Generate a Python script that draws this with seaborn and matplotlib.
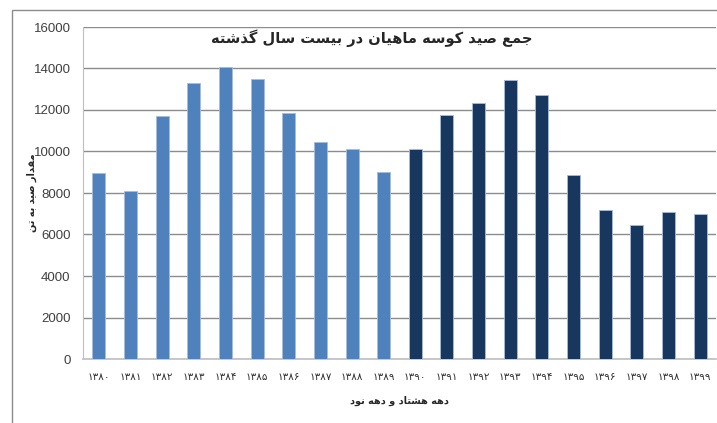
import matplotlib
matplotlib.use("Agg")
import matplotlib.pyplot as plt
import seaborn as sns
import pandas as pd
from matplotlib.patches import Rectangle

# data
years = ['۱۳۸۰', '۱۳۸۱', '۱۳۸۲', '۱۳۸۳', '۱۳۸۴', '۱۳۸۵', '۱۳۸۶', '۱۳۸۷', '۱۳۸۸', '۱۳۸۹',
         '۱۳۹۰', '۱۳۹۱', '۱۳۹۲', '۱۳۹۳', '۱۳۹۴', '۱۳۹۵', '۱۳۹۶', '۱۳۹۷', '۱۳۹۸', '۱۳۹۹']
catch = [8980, 8080, 11700, 13300, 14090, 13510, 11840, 10440, 10120, 9010,
         10120, 11760, 12340, 13450, 12720, 8850, 7170, 6440, 7100, 6990]
decade = ['80'] * 10 + ['90'] * 10
yticks = [0, 2000, 4000, 6000, 8000, 10000, 12000, 14000, 16000]

title_txt = 'جمع صید کوسه ماهیان در بیست سال گذشته'
ylabel_txt = 'مقدار صید به تن'
xlabel_txt = 'دهه هشتاد و دهه نود'

# matplotlib has no arabic shaping, so pick contextual forms by hand
FORMS = {
    'ا': ('\uFE8D', '\uFE8E', None, None),
    'ب': ('\uFE8F', '\uFE90', '\uFE91', '\uFE92'),
    'ت': ('\uFE95', '\uFE96', '\uFE97', '\uFE98'),
    'ج': ('\uFE9D', '\uFE9E', '\uFE9F', '\uFEA0'),
    'د': ('\uFEA9', '\uFEAA', None, None),
    'ذ': ('\uFEAB', '\uFEAC', None, None),
    'ر': ('\uFEAD', '\uFEAE', None, None),
    'س': ('\uFEB1', '\uFEB2', '\uFEB3', '\uFEB4'),
    'ش': ('\uFEB5', '\uFEB6', '\uFEB7', '\uFEB8'),
    'ص': ('\uFEB9', '\uFEBA', '\uFEBB', '\uFEBC'),
    'ع': ('\uFEC9', '\uFECA', '\uFECB', '\uFECC'),
    'ق': ('\uFED5', '\uFED6', '\uFED7', '\uFED8'),
    'ل': ('\uFEDD', '\uFEDE', '\uFEDF', '\uFEE0'),
    'م': ('\uFEE1', '\uFEE2', '\uFEE3', '\uFEE4'),
    'ن': ('\uFEE5', '\uFEE6', '\uFEE7', '\uFEE8'),
    'ه': ('\uFEE9', '\uFEEA', '\uFEEB', '\uFEEC'),
    'و': ('\uFEED', '\uFEEE', None, None),
    'ک': ('\uFB8E', '\uFB8F', '\uFB90', '\uFB91'),
    'گ': ('\uFB92', '\uFB93', '\uFB94', '\uFB95'),
    'ی': ('\uFBFC', '\uFBFD', '\uFBFE', '\uFBFF'),
}


def shape(s):
    out = []
    for i, ch in enumerate(s):
        if ch not in FORMS:
            out.append(ch)
            continue
        prev = s[i - 1] if i > 0 else ''
        nxt = s[i + 1] if i < len(s) - 1 else ''
        join_prev = prev in FORMS and FORMS[prev][2] is not None
        join_next = nxt in FORMS and FORMS[ch][2] is not None
        iso, fin, ini, med = FORMS[ch]
        if join_prev and join_next:
            out.append(med)
        elif join_prev:
            out.append(fin)
        elif join_next:
            out.append(ini)
        else:
            out.append(iso)
    return ''.join(reversed(out))


df = pd.DataFrame({'year': years, 'catch': catch, 'decade': decade})

sns.set_style("white")
plt.rcParams['font.family'] = ['DejaVu Sans']

fig = plt.figure(figsize=(7.17, 4.23), dpi=100)
ax = fig.add_axes([83 / 717, 1 - 359 / 423, 633 / 717, 332 / 423])

sns.barplot(data=df, x='year', y='catch', hue='decade',
            palette={'80': '#4F81BD', '90': '#17375E'}, saturation=1,
            dodge=False, width=0.41, legend=False,
            edgecolor='#A7BCDA', linewidth=0.6, ax=ax, zorder=3)

ax.set_ylim(0, 16000)
ax.set_yticks(yticks)
ax.set_yticklabels([str(v) for v in yticks], fontsize=9.5, color='#404040',
                   family=['Liberation Sans Narrow', 'Liberation Sans'])
ax.tick_params(axis='x', labelsize=7.5, colors='#303030', length=0, pad=9)
ax.tick_params(axis='y', length=0, pad=9)
ax.yaxis.grid(True, color='#8C8C8C', linewidth=1.0, zorder=0)
ax.set_axisbelow(True)

for side in ['top', 'right']:
    ax.spines[side].set_visible(False)
ax.spines['left'].set_color('#BFBFBF')
ax.spines['bottom'].set_color('#BFBFBF')
ax.spines['bottom'].set_linewidth(1.2)

ax.set_xlabel(shape(xlabel_txt), fontsize=7, fontweight='bold')
ax.xaxis.set_label_coords(0.5, -37 / 332)
ax.set_ylabel(shape(ylabel_txt), fontsize=7, fontweight='bold')
ax.yaxis.set_label_coords(-46 / 633, 0.5)

fig.text(372 / 717, 1 - 38 / 423, shape(title_txt), fontsize=10.5, fontweight='bold',
         ha='center', va='center')

# outer chart border from the screenshot
fig.add_artist(Rectangle((12 / 717, -0.2), 1.2, 1.2 - 10 / 423,
                         transform=fig.transFigure, fill=False,
                         edgecolor='#8C8C8C', linewidth=1.0))

fig.savefig('out.png', dpi=100)
